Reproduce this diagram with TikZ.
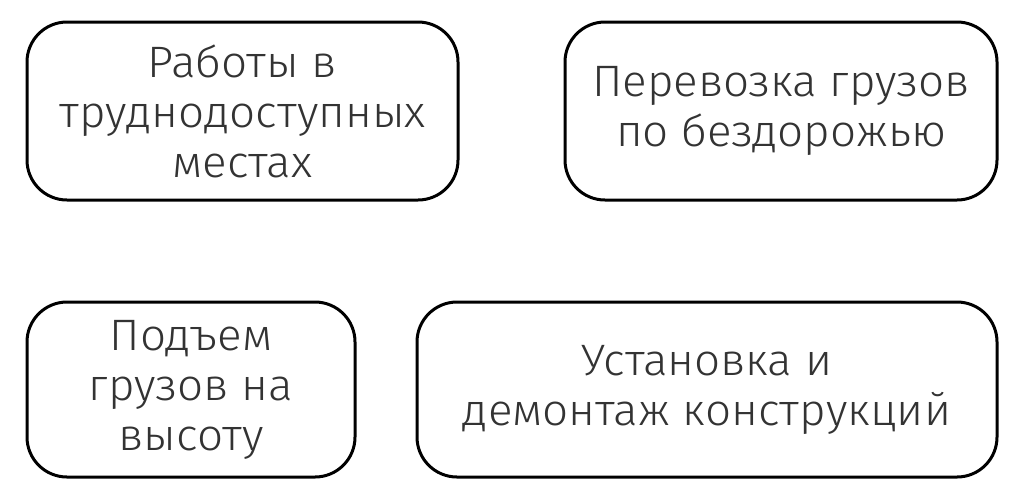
\documentclass[tikz,border=0pt]{standalone}
\usepackage{fontspec}
\setmainfont{Fira Sans Light}[FakeStretch=1.04]
\begin{document}
\begin{tikzpicture}[x=1pt,y=-1pt,
  card/.style={draw=black,line width=3pt,rounded corners=40pt,fill=white,
    text=black!80,align=center,inner sep=0pt,
    font=\fontsize{44}{50}\selectfont}]
\useasboundingbox (0,0) rectangle (1024,496);
\node[card,minimum width=431pt,minimum height=178pt] (a) at (242.5,111)
  {Работы в\\труднодоступных\\местах};
\node[card,minimum width=432pt,minimum height=178pt] (b) at (781,111)
  {Перевозка грузов\\по бездорожью};
\node[card,minimum width=328pt,minimum height=175pt] (c) at (191,389.5)
  {Подъем\\грузов на\\высоту};
\node[card,minimum width=580pt,minimum height=175pt] (d) at (707,389.5)
  {Установка и\\демонтаж конструкций};
\end{tikzpicture}
\end{document}
